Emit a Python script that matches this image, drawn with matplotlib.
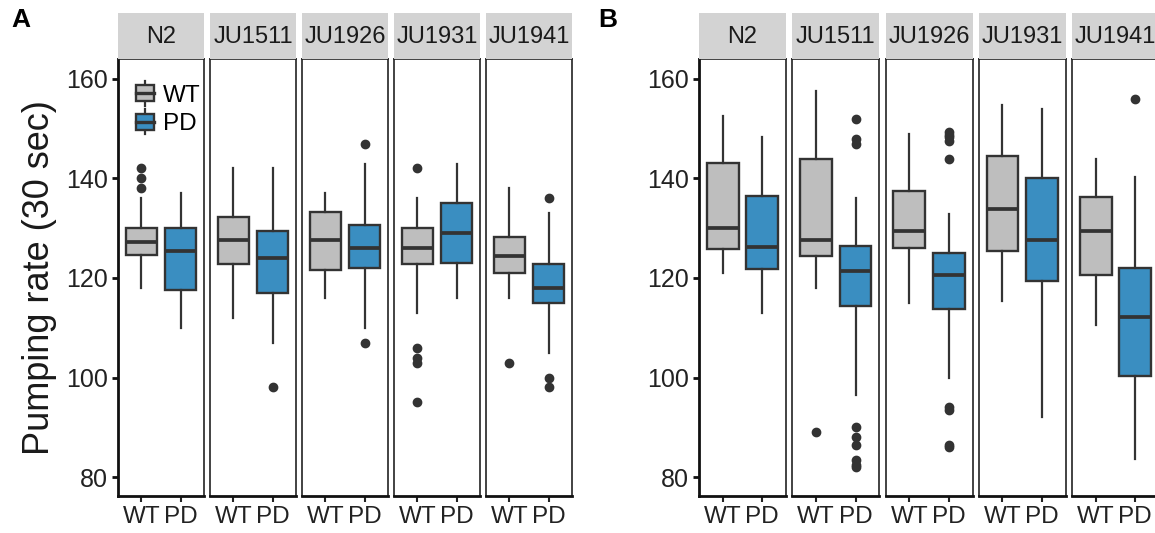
import matplotlib
matplotlib.use("Agg")
import matplotlib.pyplot as plt
from matplotlib.legend_handler import HandlerBase
from matplotlib.patches import Rectangle, Patch
from matplotlib.lines import Line2D

plt.rcParams["font.family"] = ["Liberation Sans", "DejaVu Sans"]

strains = ["N2", "JU1511", "JU1926", "JU1931", "JU1941"]
genotypes = ["WT", "PD"]

# five-number summaries per strain: [whisker low, q1, median, q3, whisker high]
a_wt = [[118, 124.6, 127.2, 130, 136],
        [112, 122.8, 127.6, 132.3, 142],
        [116, 121.6, 127.6, 133.3, 137],
        [113, 122.8, 126, 130, 136],
        [116, 121, 124.4, 128.2, 138]]
a_wt_out = [[138, 140, 142], [], [], [142, 106, 104, 103, 95], [103]]
a_pd = [[110, 117.6, 125.5, 130, 137],
        [107, 117, 124, 129.4, 142],
        [110, 122, 126, 130.7, 143],
        [116, 123, 129, 135, 143],
        [105, 115, 118, 122.8, 133]]
a_pd_out = [[], [98], [147, 107], [], [136, 100, 98]]

b_wt = [[121, 125.8, 130, 143.1, 152.6],
        [118, 124.4, 127.6, 144, 157.6],
        [115, 126, 129.4, 137.5, 149],
        [115.4, 125.5, 133.8, 144.5, 154.8],
        [110.5, 120.6, 129.4, 136.2, 144]]
b_wt_out = [[], [89], [], [], []]
b_pd = [[113, 121.8, 126.2, 136.5, 148.3],
        [96.5, 114.4, 121.4, 126.4, 136],
        [100, 113.8, 120.6, 125, 132.9],
        [92, 119.4, 127.6, 140, 154],
        [83.6, 100.3, 112.2, 122, 140.3]]
b_pd_out = [[], [152, 148, 147, 90, 88, 86.5, 83.5, 82.5, 82],
            [149.4, 148.8, 148.3, 147.5, 144, 94, 93.5, 86.5, 86], [], [156]]

yticks = [80, 100, 120, 140, 160]

FILL = {"WT": "#BEBEBE", "PD": "#3A8EC1"}
EDGE = "#333333"
W, H = 1155, 533


class BoxKeyHandler(HandlerBase):
    # ggplot-like boxplot legend key
    def create_artists(self, legend, orig_handle, xdescent, ydescent,
                       width, height, fontsize, trans):
        x0, y0 = -xdescent, -ydescent
        cx = x0 + width / 2
        rect = Rectangle((x0, y0 + 0.18 * height), width, 0.64 * height,
                         facecolor=orig_handle.get_facecolor(), edgecolor=EDGE,
                         lw=1.7, transform=trans)
        med = Line2D([x0, x0 + width], [y0 + 0.5 * height] * 2, color=EDGE, lw=2.4, transform=trans)
        w1 = Line2D([cx, cx], [y0, y0 + 0.18 * height], color=EDGE, lw=1.6, transform=trans)
        w2 = Line2D([cx, cx], [y0 + 0.82 * height, y0 + height], color=EDGE, lw=1.6, transform=trans)
        return [w1, w2, rect, med]


def make_stats(five, outliers):
    lo, q1, med, q3, hi = five
    return {"whislo": lo, "q1": q1, "med": med, "q3": q3, "whishi": hi, "fliers": outliers}


def draw_panel(fig, lefts, width, wt, wt_out, pd_, pd_out, letter, letter_x):
    bottom = (H - 496) / H
    height = (496 - 59) / H
    strip_b = (H - 59) / H
    strip_h = 46 / H
    axes = []
    for i, strain in enumerate(strains):
        ax = fig.add_axes([lefts[i] / W, bottom, width / W, height])
        stats = [make_stats(wt[i], wt_out[i]), make_stats(pd_[i], pd_out[i])]
        bp = ax.bxp(stats, positions=[1, 2], widths=0.8, patch_artist=True, showcaps=False,
                    boxprops=dict(edgecolor=EDGE, lw=1.7),
                    medianprops=dict(color=EDGE, lw=2.7),
                    whiskerprops=dict(color=EDGE, lw=1.6),
                    flierprops=dict(marker="o", markerfacecolor=EDGE, markeredgecolor=EDGE,
                                    markersize=6))
        for patch, g in zip(bp["boxes"], genotypes):
            patch.set_facecolor(FILL[g])
        ax.set_xlim(0.4, 2.6)
        ax.set_ylim(76.2, 164.0)
        ax.set_xticks([1, 2])
        ax.set_xticklabels(genotypes, fontsize=17.5, color="#222222")
        ax.tick_params(axis="x", length=4.5, width=1.5, pad=3, color="#222222")
        for side in ["top", "right", "left"]:
            ax.spines[side].set_linewidth(1.2)
            ax.spines[side].set_color("#222222")
        ax.spines["bottom"].set_linewidth(2)
        ax.spines["bottom"].set_color("#111111")
        if i == 0:
            ax.set_yticks(yticks)
            ax.set_yticklabels([str(t) for t in yticks], fontsize=18, color="#222222")
            ax.tick_params(axis="y", length=4.5, width=2, pad=3, color="#111111")
            ax.spines["left"].set_linewidth(2)
            ax.spines["left"].set_color("#111111")
        else:
            ax.set_yticks([])
        sax = fig.add_axes([lefts[i] / W, strip_b, width / W, strip_h])
        sax.set_facecolor("#D3D3D3")
        sax.set_xticks([])
        sax.set_yticks([])
        for s in sax.spines.values():
            s.set_visible(False)
        sax.text(0.5, 0.47, strain, ha="center", va="center", fontsize=17, color="#1a1a1a",
                 transform=sax.transAxes)
        axes.append(ax)
    fig.text(letter_x / W, (H - 20) / H, letter, fontsize=19, fontweight="bold",
             ha="center", va="center")
    return axes


fig = plt.figure(figsize=(W / 100, H / 100), dpi=100)

a_lefts = [118 + 92 * i for i in range(5)]
b_lefts = [699 + 93.25 * i for i in range(5)]
axes_a = draw_panel(fig, a_lefts, 86, a_wt, a_wt_out, a_pd, a_pd_out, "A", 21)
axes_b = draw_panel(fig, b_lefts, 87, b_wt, b_wt_out, b_pd, b_pd_out, "B", 608)

fig.text(40 / W, (H - 278) / H, "Pumping rate (30 sec)", rotation=90, fontsize=26,
         ha="center", va="center", color="#1a1a1a")

handles = [Patch(facecolor=FILL[g]) for g in genotypes]
axes_a[0].legend(handles, genotypes, handler_map={Patch: BoxKeyHandler()},
                 loc="upper left", bbox_to_anchor=(0.21, 0.95), frameon=False,
                 fontsize=17.5, handlelength=0.75, handleheight=1.2, handletextpad=0.35,
                 labelspacing=0.12, borderaxespad=0, borderpad=0)

fig.savefig("out.png", dpi=100)
